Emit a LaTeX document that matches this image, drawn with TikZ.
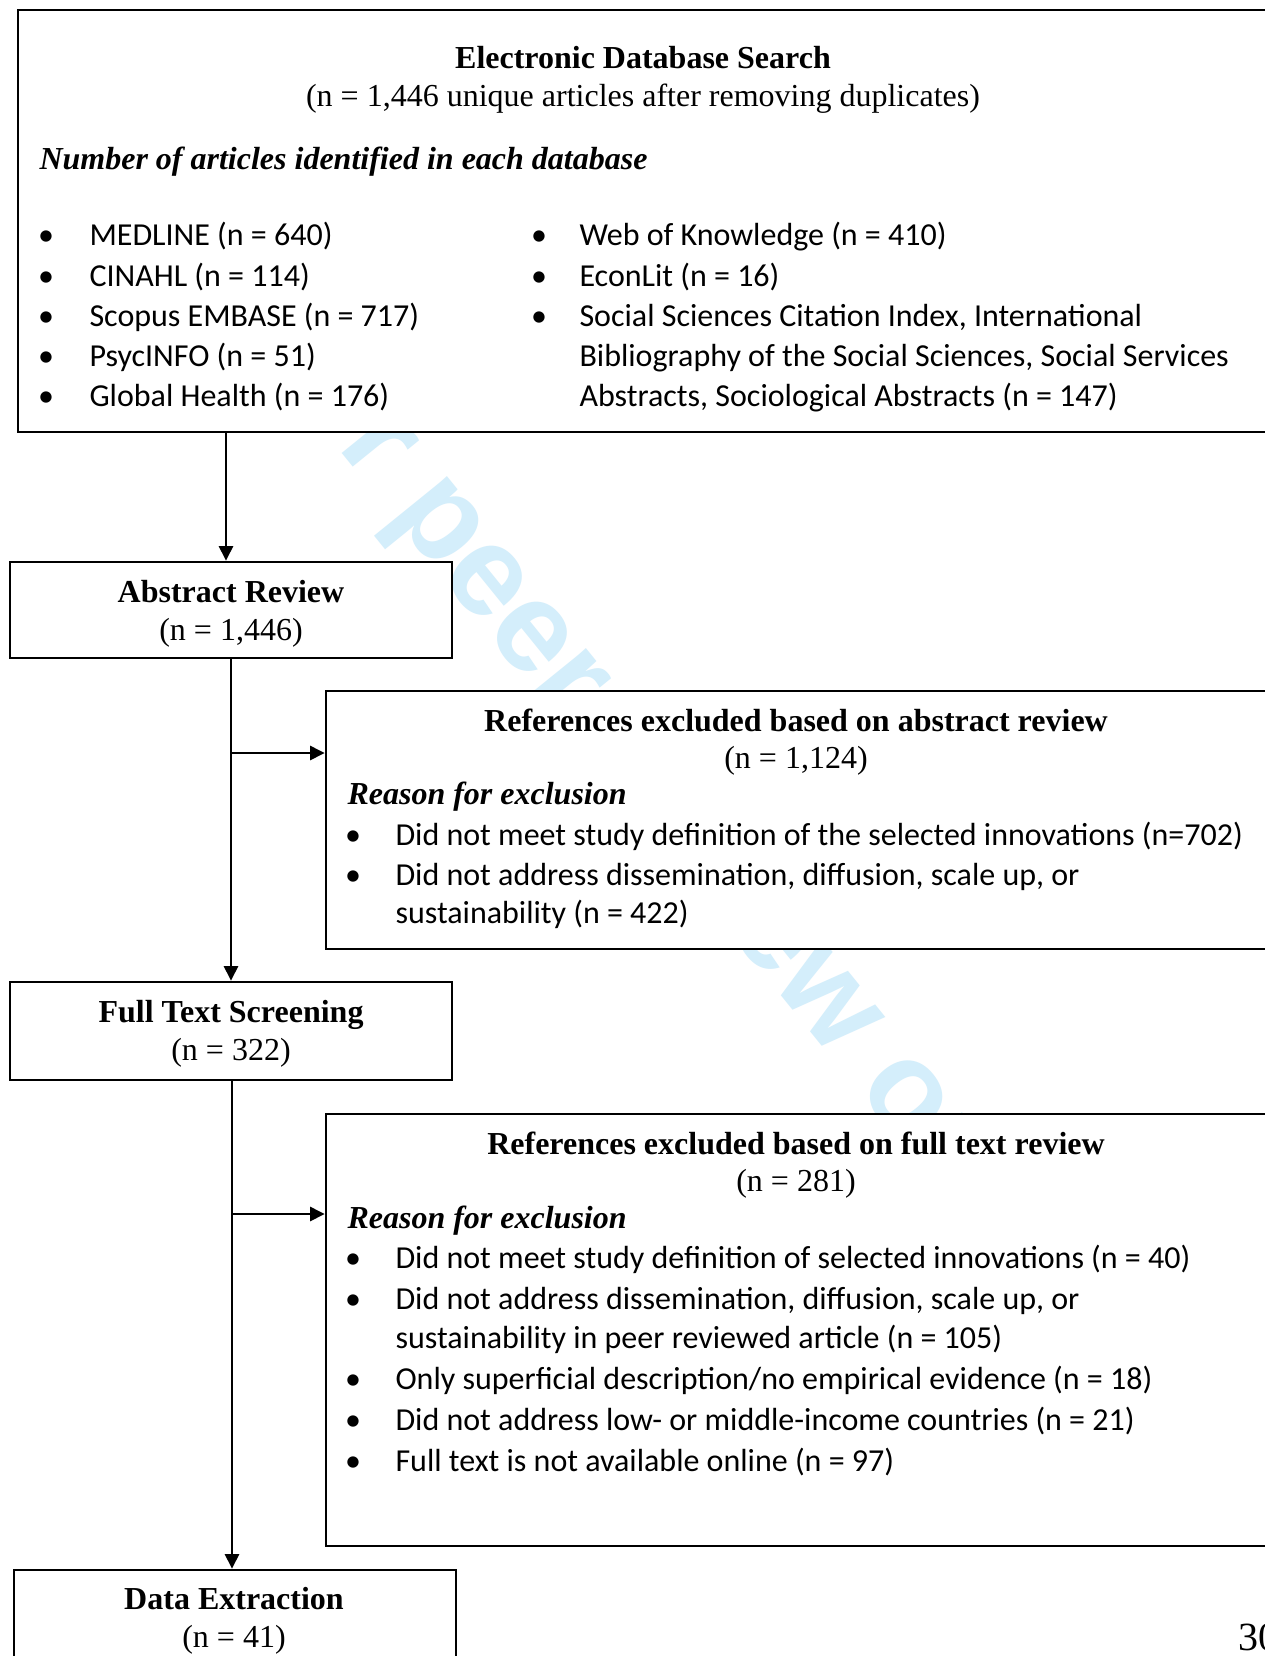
\documentclass[tikz,border=0pt]{standalone}
\usepackage{fontspec}
\setmainfont{Liberation Serif}
\newfontfamily\calfont{Carlito}
\newfontfamily\wmfont{Liberation Sans}
\usetikzlibrary{arrows.meta,fit}
\definecolor{wmblue}{RGB}{212,238,251}
\tikzset{
  box/.style={draw, line width=1pt, fill=white, inner sep=0pt},
  hd/.style={font=\fontsize{12}{14}\selectfont\bfseries, anchor=base, inner sep=0pt},
  ct/.style={font=\fontsize{12}{14}\selectfont, anchor=base, inner sep=0pt},
  subhd/.style={font=\fontsize{12}{14}\selectfont\bfseries\itshape, anchor=base west, inner sep=0pt},
  item/.style={font=\calfont\fontsize{12}{14}\selectfont, anchor=base west, inner sep=0pt},
  dot/.style={font=\calfont\fontsize{12}{14}\selectfont, anchor=base, inner sep=0pt},
  arr/.style={line width=1pt, -{Triangle[length=5.5pt,width=5.3pt]}},
  link/.style={line width=1pt}
}
\begin{document}
\begin{tikzpicture}[x=0.375pt, y=-0.375pt]
\useasboundingbox (0,0) rectangle (1265,1656);
\clip (0,0) rectangle (1265,1656);
\fill[white] (0,0) rectangle (1265,1656);

% watermark behind the boxes
\node[text=wmblue, font=\wmfont\bfseries\fontsize{48}{48}\selectfont, rotate=-51, inner sep=0pt]
  (wm) at (655,788) {For peer review only};

% boxes
\node[box, fit={(18,10) (1268,432)}] (search) {};
\node[box, fit={(10,562) (452,658)}] (abstract) {};
\node[box, fit={(326,691) (1268,949)}] (excl1) {};
\node[box, fit={(10,982) (452,1080)}] (fulltext) {};
\node[box, fit={(326,1114) (1268,1546)}] (excl2) {};
\node[box, fit={(14,1570) (456,1720)}] (extract) {};

% database search
\node[hd] (t1) at (643,68) {Electronic Database Search};
\node[ct] (t1n) at (643,106) {(n = 1,446 unique articles after removing duplicates)};
\node[subhd] (t1s) at (39,169) {Number of articles identified in each database};
\node[dot] (d1) at (46,245) {•};
\node[item] (i1) at (89,245) {MEDLINE (n = 640)};
\node[dot] (d2) at (46,286) {•};
\node[item] (i2) at (89,286) {CINAHL (n = 114)};
\node[dot] (d3) at (46,326) {•};
\node[item] (i3) at (89,326) {Scopus EMBASE (n = 717)};
\node[dot] (d4) at (46,366) {•};
\node[item] (i4) at (89,366) {PsycINFO (n = 51)};
\node[dot] (d5) at (46,406) {•};
\node[item] (i5) at (89,406) {Global Health (n = 176)};
\node[dot] (d6) at (539,245) {•};
\node[item] (i6) at (579,245) {Web of Knowledge (n = 410)};
\node[dot] (d7) at (539,286) {•};
\node[item] (i7) at (579,286) {EconLit (n = 16)};
\node[dot] (d8) at (539,326) {•};
\node[item] (i8) at (579,326) {Social Sciences Citation Index, International};
\node[item] (i8b) at (579,366) {Bibliography of the Social Sciences, Social Services};
\node[item] (i8c) at (579,406) {Abstracts, Sociological Abstracts (n = 147)};

% abstract review
\node[hd] (t2) at (231,602) {Abstract Review};
\node[ct] (t2n) at (231,640) {(n = 1,446)};

% first exclusion
\node[hd] (t3) at (796,731) {References excluded based on abstract review};
\node[ct] (t3n) at (796,768) {(n = 1,124)};
\node[subhd] (t3s) at (347,804) {Reason for exclusion};
\node[dot] (e1) at (353,845) {•};
\node[item] (j1) at (395,845) {Did not meet study definition of the selected innovations (n=702)};
\node[dot] (e2) at (353,885) {•};
\node[item] (j2) at (395,885) {Did not address dissemination, diffusion, scale up, or};
\node[item] (j2b) at (395,923) {sustainability (n = 422)};

% full text screening
\node[hd] (t4) at (231,1022) {Full Text Screening};
\node[ct] (t4n) at (231,1060) {(n = 322)};

% second exclusion
\node[hd] (t5) at (796,1154) {References excluded based on full text review};
\node[ct] (t5n) at (796,1191) {(n = 281)};
\node[subhd] (t5s) at (347,1228) {Reason for exclusion};
\node[dot] (f1) at (353,1268) {•};
\node[item] (k1) at (395,1268) {Did not meet study definition of selected innovations (n = 40)};
\node[dot] (f2) at (353,1309) {•};
\node[item] (k2) at (395,1309) {Did not address dissemination, diffusion, scale up, or};
\node[item] (k2b) at (395,1348) {sustainability in peer reviewed article (n = 105)};
\node[dot] (f3) at (353,1389) {•};
\node[item] (k3) at (395,1389) {Only superficial description/no empirical evidence (n = 18)};
\node[dot] (f4) at (353,1430) {•};
\node[item] (k4) at (395,1430) {Did not address low- or middle-income countries (n = 21)};
\node[dot] (f5) at (353,1471) {•};
\node[item] (k5) at (395,1471) {Full text is not available online (n = 97)};

% data extraction
\node[hd] (t6) at (234,1609) {Data Extraction};
\node[ct] (t6n) at (234,1647) {(n = 41)};

% page number
\node[font=\fontsize{15}{15}\selectfont, anchor=base west, inner sep=0pt] (pg) at (1238,1650) {30};

% connectors
\coordinate (c1) at (226,0);
\coordinate (c2) at (231,0);
\coordinate (c3) at (232,0);
\coordinate (b1) at (232,753);
\coordinate (b2) at (232,1214);
\draw[arr] (search.south -| c1) -- (abstract.north -| c1);
\draw[arr] (abstract.south -| c2) -- (fulltext.north -| c2);
\draw[arr] (b1) -- (excl1.west |- b1);
\draw[arr] (fulltext.south -| c3) -- (extract.north -| c3);
\draw[arr] (b2) -- (excl2.west |- b2);
\end{tikzpicture}
\end{document}
